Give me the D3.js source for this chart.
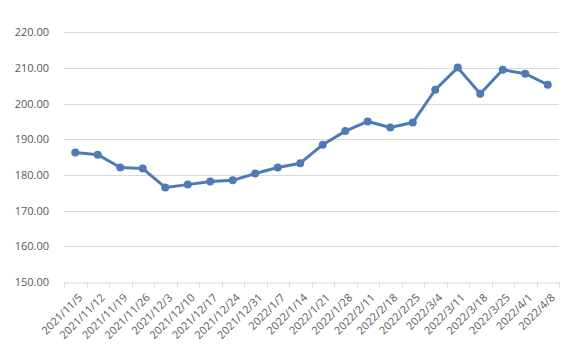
<!DOCTYPE html>
<html><head><meta charset="utf-8">
<script src="https://cdn.jsdelivr.net/npm/d3@7/dist/d3.min.js"></script>
<style>body{margin:0;background:#fff}svg{display:block}</style>
</head><body><svg id="c" width="580" height="357"></svg>
<script>
const categories = ["2021/11/5","2021/11/12","2021/11/19","2021/11/26","2021/12/3","2021/12/10","2021/12/17","2021/12/24","2021/12/31","2022/1/7","2022/1/14","2022/1/21","2022/1/28","2022/2/11","2022/2/18","2022/2/25","2022/3/4","2022/3/11","2022/3/18","2022/3/25","2022/4/1","2022/4/8"];
const values = [186.3,185.7,182.1,181.8,176.5,177.3,178.2,178.5,180.4,182.1,183.3,188.5,192.3,195.0,193.3,194.7,203.9,210.1,202.8,209.5,208.4,205.3];
const yTicks = [150,160,170,180,190,200,210,220];

const svg = d3.select("#c");
const m = {l:64, r:21, t:32.3, b:75};
const W = 580, H = 357;
const x = d3.scaleBand().domain(categories).range([m.l, W - m.r]);
const y = d3.scaleLinear().domain([150,220]).range([282, 32.3]);
const font = "'Open Sans', 'Liberation Sans', sans-serif";

svg.append("g").selectAll("line").data(yTicks.filter(d=>d>150)).join("line")
  .attr("x1", m.l).attr("x2", W - m.r)
  .attr("y1", d=>Math.round(y(d))+0.5).attr("y2", d=>Math.round(y(d))+0.5)
  .attr("stroke", "#d9d9d9").attr("stroke-width", 1);

const yAxis = d3.axisLeft(y).tickValues(yTicks).tickFormat(d3.format(".2f")).tickSize(0).tickPadding(15);
const gy = svg.append("g").attr("transform", `translate(${m.l},0)`).call(yAxis);
gy.select(".domain").remove();
gy.selectAll("text").attr("fill", "#595959").style("font-family", font).style("font-size", "11px");

const xAxis = d3.axisBottom(x).tickSize(0);
const gx = svg.append("g").attr("transform", `translate(0,${Math.round(y(150))+0.5})`).call(xAxis);
gx.select(".domain").attr("stroke", "#d9d9d9");
const edges = categories.map(c=>x(c)).concat([x(categories[categories.length-1]) + x.bandwidth()]);
gx.selectAll(".edge").data(edges).join("line").attr("class","edge")
  .attr("x1", d=>Math.round(d)+0.5).attr("x2", d=>Math.round(d)+0.5)
  .attr("y1", 0).attr("y2", 5).attr("stroke", "#d9d9d9");
gx.selectAll(".tick text")
  .attr("fill", "#595959").style("font-family", font).style("font-size", "11px")
  .attr("text-anchor", "end")
  .attr("dy", "0.35em")
  .attr("transform", "translate(3,11) rotate(-45)");

const line = d3.line().x((d,i)=>x(categories[i]) + x.bandwidth()/2).y(d=>y(d));
svg.append("path").datum(values).attr("d", line)
  .attr("fill", "none").attr("stroke", "#4e7bb5").attr("stroke-width", 3).attr("stroke-linejoin", "round");
svg.append("g").selectAll("circle").data(values).join("circle")
  .attr("cx", (d,i)=>x(categories[i]) + x.bandwidth()/2).attr("cy", d=>y(d))
  .attr("r", 4).attr("fill", "#4e7bb5");
</script></body></html>
